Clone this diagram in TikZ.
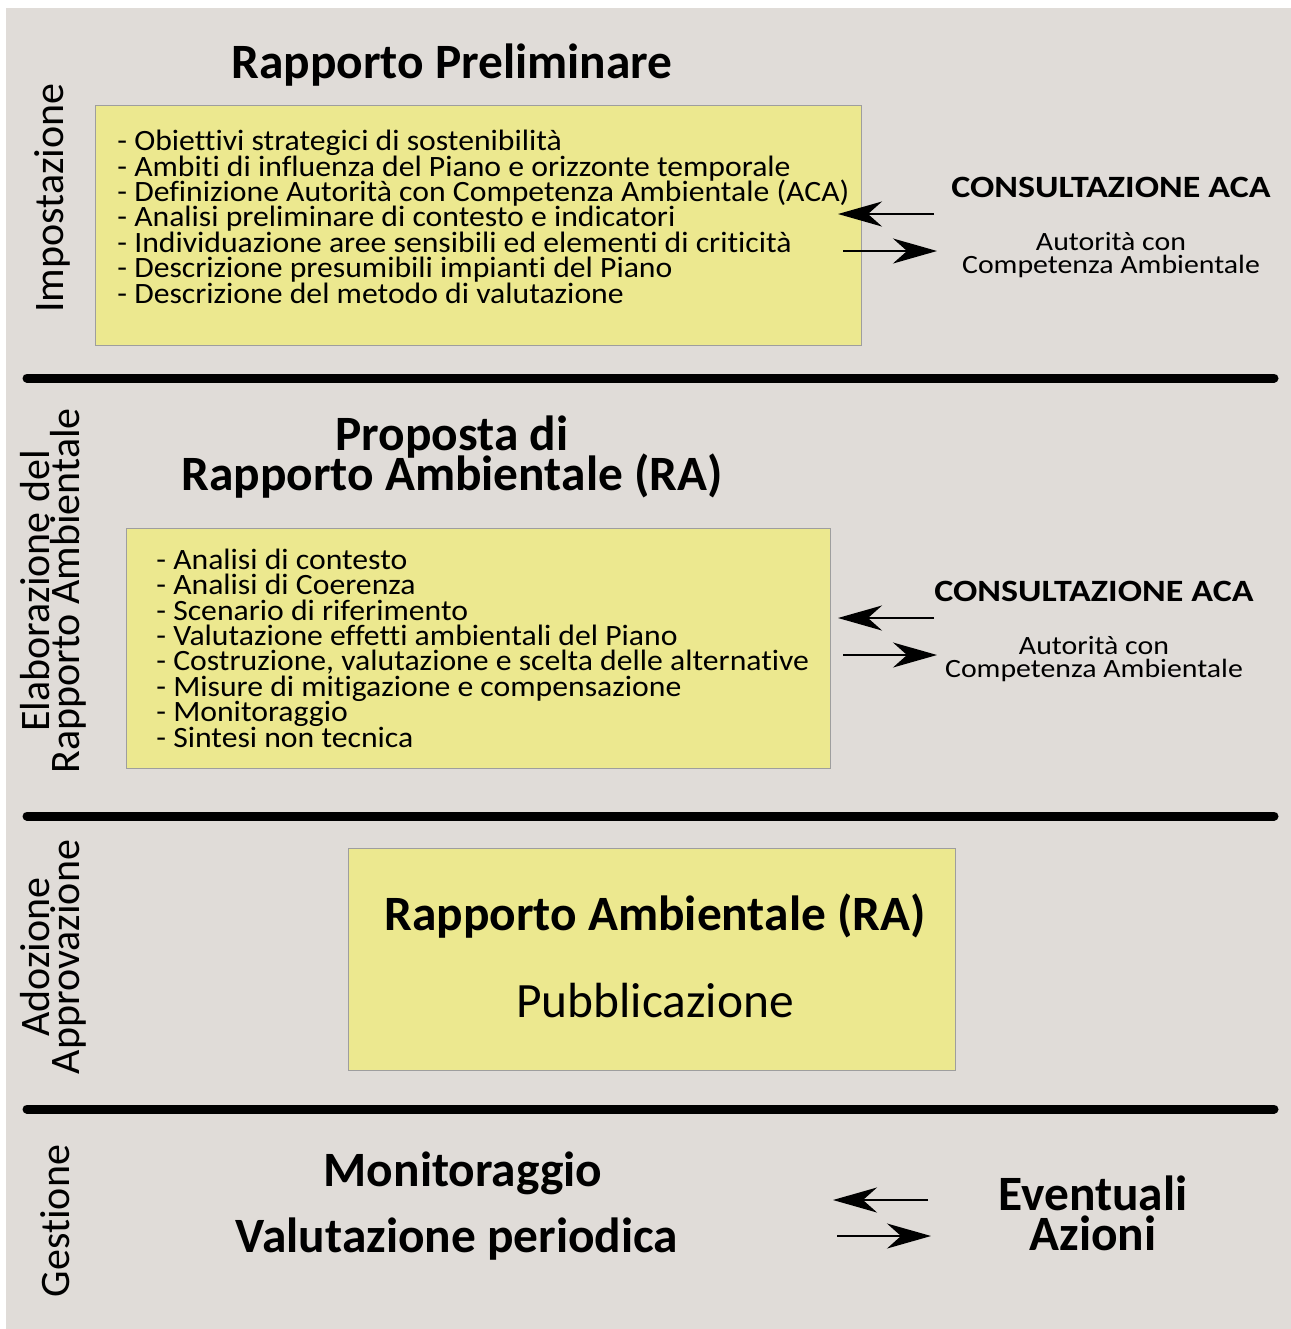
\documentclass[tikz,border=0pt]{standalone}
\usepackage{fontspec}
\setmainfont{Carlito}[Ligatures=NoCommon]
\newfontfamily\itemfont[FakeStretch=1.075, Ligatures=NoCommon]{Carlito}
\newfontfamily\acafont[FakeStretch=1.13, Ligatures=NoCommon]{Carlito}
\newfontfamily\consfont[FakeStretch=1.16, Ligatures=NoCommon]{Carlito}
\usetikzlibrary{arrows.meta}
\setlength{\lineskiplimit}{-100pt}
\definecolor{panelgray}{RGB}{224,220,216}
\definecolor{boxyellow}{RGB}{236,232,143}
\definecolor{boxedge}{RGB}{158,158,158}
\tikzstyle{phasebox} = [rectangle, draw=boxedge, line width=0.5pt, fill=boxyellow, inner sep=0pt, anchor=north west]
\tikzstyle{heading} = [font=\fontsize{24.7}{19.6}\selectfont\bfseries, align=center, inner sep=0pt, anchor=base]
\tikzstyle{items} = [font=\itemfont\fontsize{14.75}{12.7}\selectfont, align=left, inner sep=0pt, anchor=base west]
\tikzstyle{phase} = [rotate=90, font=\fontsize{21}{15}\selectfont, align=center, inner sep=0pt]
\tikzstyle{consult} = [font=\consfont\fontsize{15.5}{16}\selectfont\bfseries, inner sep=0pt, anchor=base]
\tikzstyle{aca} = [font=\acafont\fontsize{13.2}{11.5}\selectfont, align=center, inner sep=0pt, anchor=base]
\tikzstyle{separator} = [line width=4.5pt, line cap=round]
\tikzstyle{arrow} = [line width=1pt, -{Stealth[length=22pt, width=12.5pt, inset=7pt]}]

\begin{document}
\begin{tikzpicture}[x=0.5pt, y=-0.5pt]
        % Background
        \useasboundingbox (0,0) rectangle (1291,1329);
        \fill[white] (0,0) rectangle (1291,1329);
        \fill[panelgray] (6,8) rectangle (1291,1329);

        % Separators
        \draw [separator] (27,378) -- (1274,378);
        \draw [separator] (27,816) -- (1274,816);
        \draw [separator] (27,1109) -- (1274,1109);

        % Phases
        \node (impostazione) [phase] at (52,198) {Impostazione};
        \node (elaborazione) [phase] at (53,591) {Elaborazione del\\Rapporto Ambientale};
        \node (adozione) [phase] at (53,957) {Adozione\\Approvazione};
        \node (gestione) [phase] at (55,1221) {Gestione};

        % Rapporto Preliminare
        \node (prelTitle) [heading] at (452,78) {Rapporto Preliminare};
        \node (prelBox) [phasebox, minimum width=383pt, minimum height=120pt] at (95,105) {};
        \node (prelList) [items] at (117,303) {- Obiettivi strategici di sostenibilità\\
            - Ambiti di influenza del Piano e orizzonte temporale\\
            - Definizione Autorità con Competenza Ambientale (ACA)\\
            - Analisi preliminare di contesto e indicatori\\
            - Individuazione aree sensibili ed elementi di criticità\\
            - Descrizione presumibili impianti del Piano\\
            - Descrizione del metodo di valutazione};
        \node (consA) [consult] at (1111,197) {CONSULTAZIONE ACA};
        \node (acaA) [aca] at (1111,273) {Autorità con\\Competenza Ambientale};

        % Proposta di RA
        \node (propTitle) [heading] at (452,490) {Proposta di\\Rapporto Ambientale (RA)};
        \node (propBox) [phasebox, minimum width=352pt, minimum height=120pt] at (126,528) {};
        \node (propList) [items] at (156,747) {- Analisi di contesto\\
            - Analisi di Coerenza\\
            - Scenario di riferimento\\
            - Valutazione effetti ambientali del Piano\\
            - Costruzione, valutazione e scelta delle alternative\\
            - Misure di mitigazione e compensazione\\
            - Monitoraggio\\
            - Sintesi non tecnica};
        \node (consB) [consult] at (1094,601) {CONSULTAZIONE ACA};
        \node (acaB) [aca] at (1094,677) {Autorità con\\Competenza Ambientale};

        % Rapporto Ambientale
        \node (raBox) [phasebox, minimum width=303.5pt, minimum height=111pt] at (348,848) {};
        \node (raTitle) [heading] at (655,930) {Rapporto Ambientale (RA)};
        \node (pubbl) [heading, font=\fontsize{24.7}{19.6}\selectfont] at (655,1017) {Pubblicazione};

        % Gestione
        \node (monit) [heading] at (463,1186) {Monitoraggio};
        \node (valut) [heading] at (457,1252) {Valutazione periodica};
        \node (azioni) [heading, font=\fontsize{24.7}{20}\selectfont\bfseries] at (1093,1250) {Eventuali\\Azioni};

        % Arrows
        \coordinate (inA) at (934,214);   \coordinate (tipA) at (838,214);
        \coordinate (outA) at (843,251);  \coordinate (endA) at (937,251);
        \coordinate (inB) at (934,618);   \coordinate (tipB) at (838,618);
        \coordinate (outB) at (843,655);  \coordinate (endB) at (937,655);
        \coordinate (inC) at (928,1200);  \coordinate (tipC) at (833,1200);
        \coordinate (outC) at (837,1236); \coordinate (endC) at (931,1236);
        \draw [arrow] (inA) -- (tipA);
        \draw [arrow] (outA) -- (endA);
        \draw [arrow] (inB) -- (tipB);
        \draw [arrow] (outB) -- (endB);
        \draw [arrow] (inC) -- (tipC);
        \draw [arrow] (outC) -- (endC);
    \end{tikzpicture}
\end{document}
